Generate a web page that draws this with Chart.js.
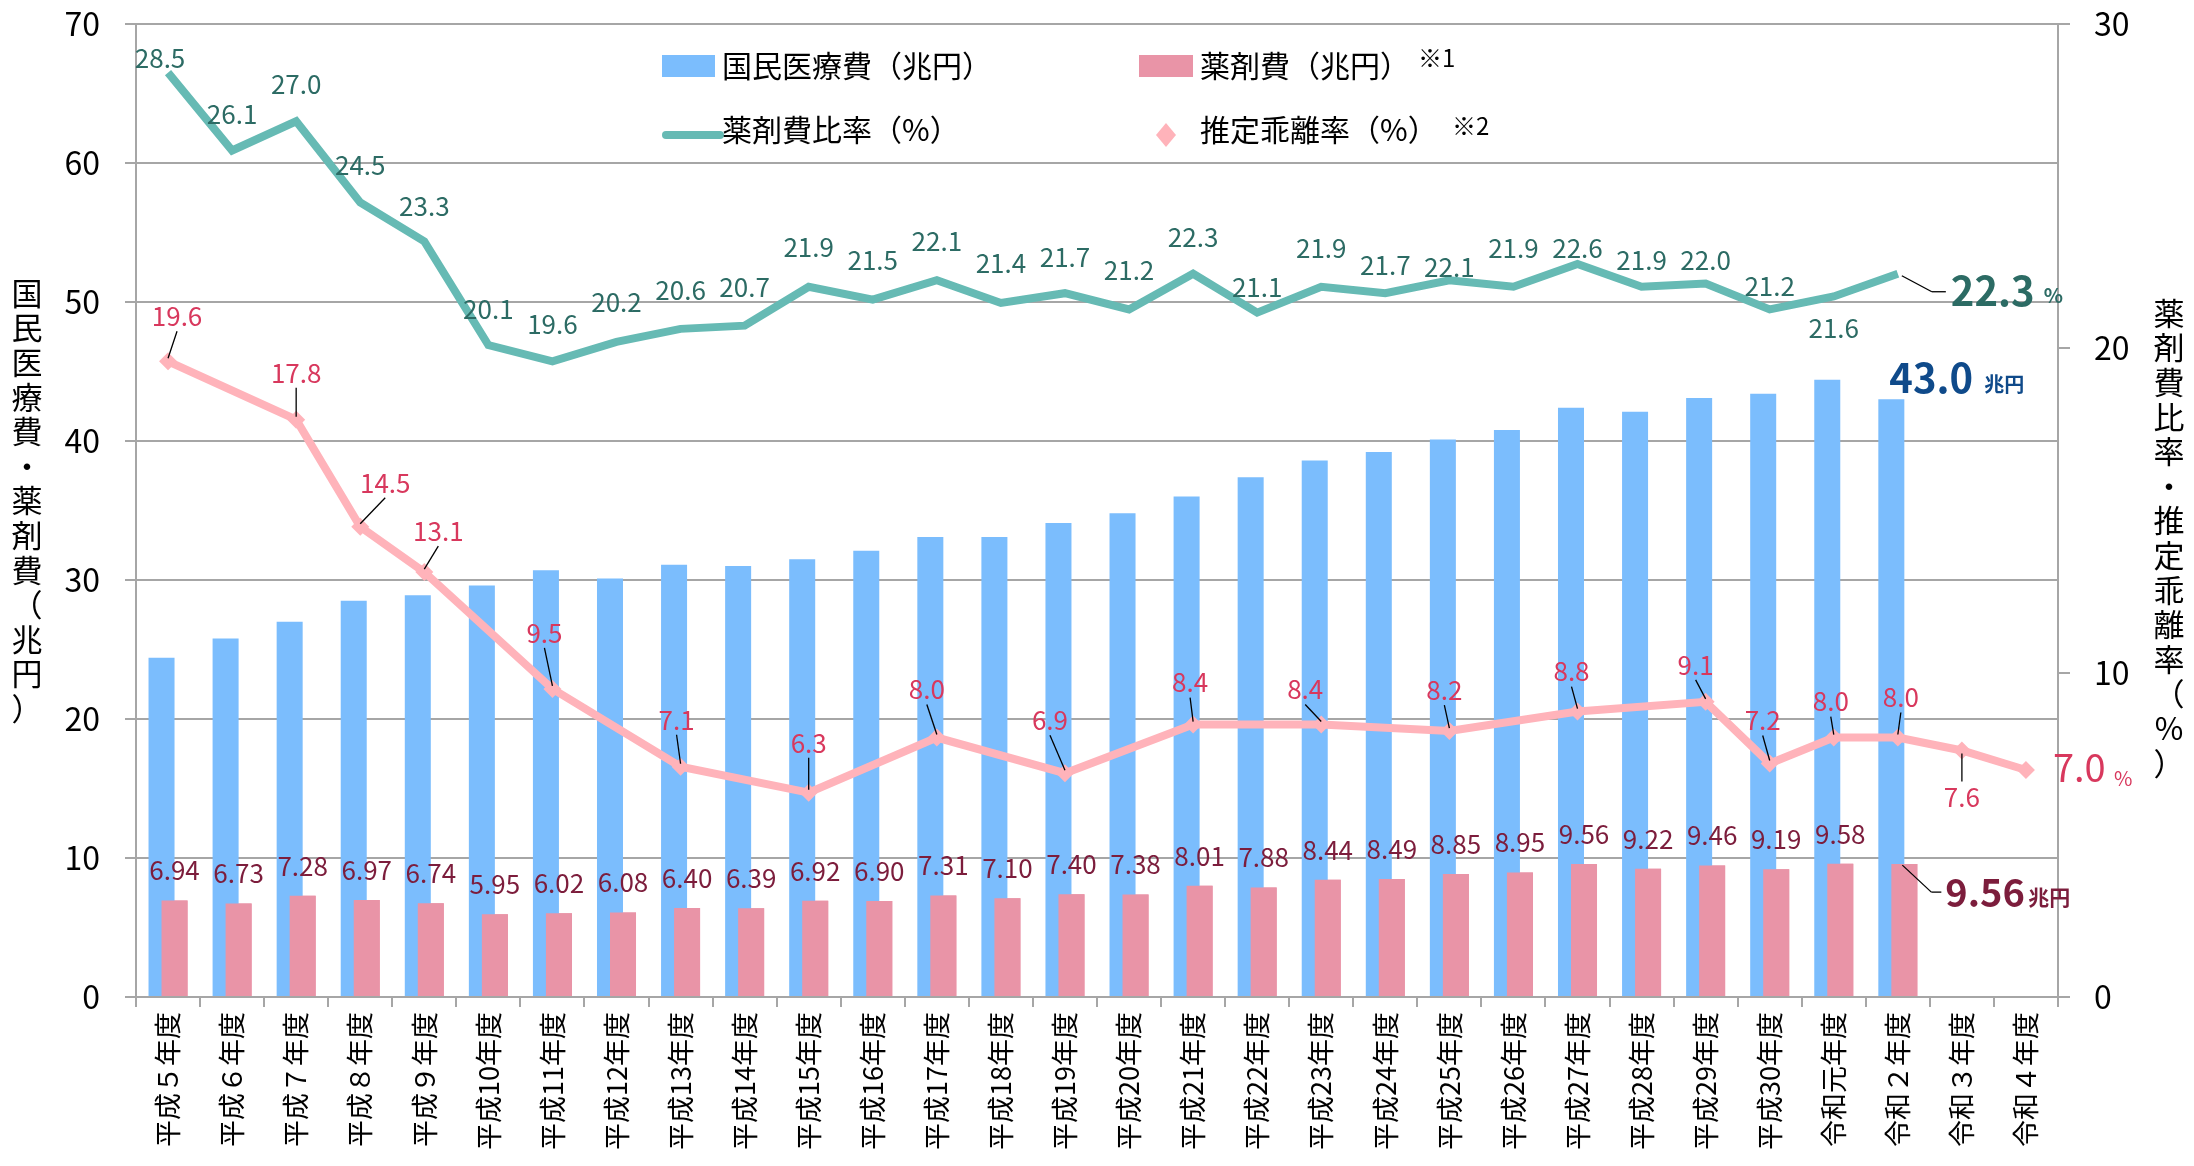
<!DOCTYPE html>
<html lang="ja">
<head>
<meta charset="utf-8">
<title>国民医療費・薬剤費等の推移</title>
<script src="https://cdn.jsdelivr.net/npm/chart.js@4.4.1/dist/chart.umd.min.js"></script>
<style>
  html, body { margin: 0; padding: 0; background: #fff; }
  #wrap { width: 2194px; height: 1166px; }
</style>
</head>
<body>
<div id="wrap"><canvas id="chart" width="2194" height="1166"></canvas></div>
<script>
// 年度
const years = [
  '平成５年度', '平成６年度', '平成７年度', '平成８年度', '平成９年度',
  '平成10年度', '平成11年度', '平成12年度', '平成13年度', '平成14年度',
  '平成15年度', '平成16年度', '平成17年度', '平成18年度', '平成19年度',
  '平成20年度', '平成21年度', '平成22年度', '平成23年度', '平成24年度',
  '平成25年度', '平成26年度', '平成27年度', '平成28年度', '平成29年度',
  '平成30年度', '令和元年度', '令和２年度', '令和３年度', '令和４年度'
];
// 国民医療費（兆円）
const medicalCost = [24.4, 25.8, 27.0, 28.5, 28.9, 29.6, 30.7, 30.1, 31.1, 31.0,
  31.5, 32.1, 33.1, 33.1, 34.1, 34.8, 36.0, 37.4, 38.6, 39.2,
  40.1, 40.8, 42.4, 42.1, 43.1, 43.4, 44.4, 43.0, null, null];
// 薬剤費（兆円）
const drugCost = [6.94, 6.73, 7.28, 6.97, 6.74, 5.95, 6.02, 6.08, 6.40, 6.39,
  6.92, 6.90, 7.31, 7.10, 7.40, 7.38, 8.01, 7.88, 8.44, 8.49,
  8.85, 8.95, 9.56, 9.22, 9.46, 9.19, 9.58, 9.56, null, null];
// 薬剤費比率（%）
const drugRatio = [28.5, 26.1, 27.0, 24.5, 23.3, 20.1, 19.6, 20.2, 20.6, 20.7,
  21.9, 21.5, 22.1, 21.4, 21.7, 21.2, 22.3, 21.1, 21.9, 21.7,
  22.1, 21.9, 22.6, 21.9, 22.0, 21.2, 21.6, 22.3, null, null];
// 推定乖離率（%）
const priceGap = [19.6, null, 17.8, 14.5, 13.1, null, 9.5, null, 7.1, null,
  6.3, null, 8.0, null, 6.9, null, 8.4, null, 8.4, null,
  8.2, null, 8.8, null, 9.1, 7.2, 8.0, 8.0, 7.6, 7.0];

const FONT = '"Noto Sans CJK JP", "Noto Sans", sans-serif';
const COLORS = {
  blue: '#7bbdfd',
  pink: '#e994a7',
  teal: '#66bab4',
  gapLine: '#ffb3ba',
  grid: '#a6a6a6',
  tealText: '#2c6b64',
  drugText: '#7c1d3c',
  gapText: '#d8385d',
  navy: '#0f4a8a'
};

// label placement (px offsets from the point)
const ratioDy = [-15, -36, -37, -37, -35, -36, -37, -40, -39, -39, -40, -40, -39, -40, -36,
  -39, -37, -26, -39, -28, -13, -39, -16, -27, -23, -23, 32];
const ratioDx = [-8];
const gapOffsets = {
  0: [9, -45], 2: [0, -47], 3: [25, -44], 4: [14, -41], 6: [-8, -56], 8: [-4, -47],
  10: [0, -50], 12: [-10, -48], 14: [-15, -53], 16: [-3, -42], 18: [-16, -35],
  20: [-5, -41], 22: [-6, -40], 24: [-10, -37], 25: [-7, -43], 26: [-3, -36],
  27: [3, -40], 28: [0, 47]
};

function drawText(ctx, str, x, y, size, color, weight, align) {
  ctx.save();
  ctx.font = (weight || 'normal') + ' ' + size + 'px ' + FONT;
  ctx.fillStyle = color;
  ctx.textAlign = align || 'center';
  ctx.textBaseline = 'middle';
  ctx.fillText(str, x, y);
  ctx.restore();
}

function drawLeader(ctx, x1, y1, x2, y2) {
  ctx.save();
  ctx.strokeStyle = '#000';
  ctx.lineWidth = 1.3;
  ctx.beginPath();
  ctx.moveTo(x1, y1);
  ctx.lineTo(x2, y2);
  ctx.stroke();
  ctx.restore();
}

function drawVertical(ctx, str, x, y0, step, size) {
  ctx.save();
  ctx.font = size + 'px ' + FONT;
  ctx.fillStyle = '#000';
  ctx.textAlign = 'center';
  ctx.textBaseline = 'middle';
  Array.from(str).forEach((ch, i) => ctx.fillText(ch, x, y0 + i * step));
  ctx.restore();
}

// pink bars sit to the right of the blue ones but are painted over them
const barLayering = {
  id: 'barLayering',
  afterDatasetDraw(chart, args) {
    if (args.index === 0) chart.getDatasetMeta(1).controller.draw();
  }
};

const annotations = {
  id: 'annotations',
  afterDraw(chart) {
    const ctx = chart.ctx;
    const blue = chart.getDatasetMeta(0).data;
    const pink = chart.getDatasetMeta(1).data;
    const ratio = chart.getDatasetMeta(2).data;
    const gap = chart.getDatasetMeta(3).data;

    // 薬剤費 labels
    drugCost.forEach((v, i) => {
      if (v == null || i === 27) return;
      drawText(ctx, v.toFixed(2), pink[i].x, pink[i].y - 30, 26, COLORS.drugText);
    });
    const pl = pink[27];
    drawLeader(ctx, pl.x - 2, pl.y + 1, pl.x + 27, pl.y + 28);
    drawLeader(ctx, pl.x + 27, pl.y + 28, pl.x + 37, pl.y + 28);
    drawText(ctx, '9.56', pl.x + 41, pl.y + 28, 38, COLORS.drugText, 'bold', 'left');
    drawText(ctx, '兆円', pl.x + 124, pl.y + 33, 21, COLORS.drugText, 'bold', 'left');

    // 国民医療費 label
    const bl = blue[27];
    drawText(ctx, '43.0', bl.x - 2, bl.y - 22, 40, COLORS.navy, 'bold', 'left');
    drawText(ctx, '兆円', bl.x + 93, bl.y - 15, 20, COLORS.navy, 'bold', 'left');

    // 薬剤費比率 labels
    drugRatio.forEach((v, i) => {
      if (v == null || i === 27) return;
      const p = ratio[i];
      drawText(ctx, v.toFixed(1), p.x + (ratioDx[i] || 0), p.y + ratioDy[i], 26, COLORS.tealText);
    });
    const rl = ratio[27];
    drawLeader(ctx, rl.x + 4, rl.y + 2, rl.x + 34, rl.y + 18);
    drawLeader(ctx, rl.x + 34, rl.y + 18, rl.x + 48, rl.y + 18);
    drawText(ctx, '22.3', rl.x + 53, rl.y + 17, 40, COLORS.tealText, 'bold', 'left');
    drawText(ctx, '%', rl.x + 146, rl.y + 22, 20, COLORS.tealText, 'bold', 'left');

    // 推定乖離率 labels
    priceGap.forEach((v, i) => {
      const off = gapOffsets[i];
      if (v == null || !off) return;
      const p = gap[i];
      const lx = p.x + off[0], ly = p.y + off[1];
      drawText(ctx, v.toFixed(1), lx, ly, 26, COLORS.gapText);
      if (off[1] < 0) drawLeader(ctx, lx, ly + 15, p.x, p.y - 3);
      else drawLeader(ctx, lx, ly - 16, p.x, p.y + 3);
    });
    const gl = gap[29];
    drawText(ctx, '7.0', gl.x + 27, gl.y - 2, 38, COLORS.gapText, 'normal', 'left');
    drawText(ctx, '%', gl.x + 88, gl.y + 8, 20, COLORS.gapText, 'normal', 'left');

    // axis titles
    drawVertical(ctx, '国民医療費・薬剤費（兆円）', 27, 293, 34.6, 31);
    drawVertical(ctx, '薬剤費比率・推定乖離率（%）', 2169, 313, 34.6, 31);

    // legend
    ctx.save();
    ctx.fillStyle = COLORS.blue;
    ctx.fillRect(662, 55, 53, 22);
    ctx.fillStyle = COLORS.pink;
    ctx.fillRect(1139, 55, 54, 22);
    ctx.strokeStyle = COLORS.teal;
    ctx.lineWidth = 8;
    ctx.lineCap = 'round';
    ctx.beginPath();
    ctx.moveTo(666, 135);
    ctx.lineTo(720, 135);
    ctx.stroke();
    ctx.fillStyle = COLORS.gapLine;
    ctx.beginPath();
    ctx.moveTo(1166, 123);
    ctx.lineTo(1176, 135);
    ctx.lineTo(1166, 147);
    ctx.lineTo(1156, 135);
    ctx.closePath();
    ctx.fill();
    ctx.restore();
    drawText(ctx, '国民医療費（兆円）', 722, 66, 30, '#000', 'normal', 'left');
    drawText(ctx, '薬剤費（兆円）', 1200, 66, 30, '#000', 'normal', 'left');
    drawText(ctx, '※1', 1418, 58, 24, '#000', 'normal', 'left');
    drawText(ctx, '薬剤費比率（%）', 722, 130, 30, '#000', 'normal', 'left');
    drawText(ctx, '推定乖離率（%）', 1200, 130, 30, '#000', 'normal', 'left');
    drawText(ctx, '※2', 1452, 126, 24, '#000', 'normal', 'left');
  }
};

Chart.defaults.font.family = FONT;
Chart.defaults.color = '#000';

// tick padding would otherwise push the plot area down
function fixValueAxis(scale) {
  scale.width = 136;
  scale.paddingTop = 0;
  scale.paddingBottom = 0;
}

const config = {
  type: 'bar',
  data: {
    labels: years,
    datasets: [
      {
        label: '国民医療費（兆円）',
        data: medicalCost,
        backgroundColor: COLORS.blue,
        yAxisID: 'y',
        order: 1,
        categoryPercentage: 0.406,
        barPercentage: 2.0
      },
      {
        label: '薬剤費（兆円）',
        data: drugCost,
        backgroundColor: COLORS.pink,
        yAxisID: 'y',
        order: 2,
        categoryPercentage: 0.406,
        barPercentage: 2.0
      },
      {
        type: 'line',
        label: '薬剤費比率（%）',
        data: drugRatio,
        borderColor: COLORS.teal,
        borderWidth: 8,
        pointRadius: 0,
        tension: 0,
        yAxisID: 'y1',
        order: 0
      },
      {
        type: 'line',
        label: '推定乖離率（%）',
        data: priceGap,
        borderColor: COLORS.gapLine,
        backgroundColor: COLORS.gapLine,
        borderWidth: 8,
        pointStyle: 'rectRot',
        pointRadius: 9,
        pointBorderWidth: 0,
        spanGaps: true,
        tension: 0,
        yAxisID: 'y1',
        order: 0
      }
    ]
  },
  options: {
    responsive: false,
    animation: false,
    devicePixelRatio: 1,
    layout: { padding: { left: 0, right: 0, top: 24, bottom: 0 } },
    plugins: {
      legend: { display: false },
      tooltip: { enabled: false }
    },
    scales: {
      x: {
        grid: { drawOnChartArea: false, tickLength: 10, color: COLORS.grid, lineWidth: 2 },
        border: { color: COLORS.grid, width: 2 },
        ticks: { autoSkip: false, minRotation: 90, maxRotation: 90, padding: 5, font: { size: 27 } },
        afterFit(scale) { scale.height = 169; }
      },
      y: {
        position: 'left',
        min: 0,
        max: 70,
        ticks: { stepSize: 10, padding: 25, font: { size: 32 } },
        grid: { color: COLORS.grid, lineWidth: 2, tickLength: 11 },
        border: { color: COLORS.grid, width: 2 },
        afterFit: fixValueAxis
      },
      y1: {
        position: 'right',
        min: 0,
        max: 30,
        ticks: { stepSize: 10, padding: 24, font: { size: 32 } },
        grid: { drawOnChartArea: false, color: COLORS.grid, lineWidth: 2, tickLength: 12 },
        border: { color: COLORS.grid, width: 2 },
        afterFit: fixValueAxis
      }
    }
  },
  plugins: [barLayering, annotations]
};

const chart = new Chart(document.getElementById('chart'), config);
</script>
</body>
</html>
